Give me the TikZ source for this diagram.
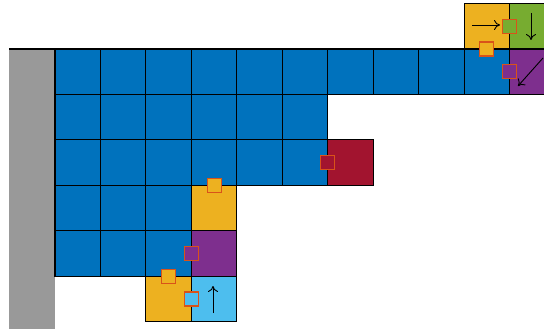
\documentclass[tikz,border=0pt]{standalone}
\usetikzlibrary{arrows.meta}
\definecolor{mblue}{HTML}{0072BD}
\definecolor{morange}{HTML}{EDB120}
\definecolor{mpurple}{HTML}{7E2F8E}
\definecolor{mgreen}{HTML}{77AC30}
\definecolor{mlblue}{HTML}{4DBEEE}
\definecolor{mred}{HTML}{A2142F}
\definecolor{medge}{HTML}{D95319}
\definecolor{wallgray}{HTML}{999999}
\tikzset{
  cellbox/.style={draw=black, line width=1.1pt},
  marker/.style={draw=medge, line width=1.1pt, minimum size=14pt, inner sep=0pt, shape=rectangle},
  dirarrow/.style={line width=0.9pt, -{To[length=6pt,width=10pt]}},
}
\newcommand\gcell[3]{\fill[#3] (55+#1*45.45, 49+#2*45.45) rectangle ++(45.45,45.45);}
\newcommand\gedge[2]{\draw[cellbox] (55+#1*45.45, 49+#2*45.45) rectangle ++(45.45,45.45);}
\begin{document}
\begin{tikzpicture}[x=1pt,y=-1pt]
\useasboundingbox (0,0) rectangle (544,329);
\clip (0,0) rectangle (544,329);
% wall
\fill[wallgray] (9,49) rectangle (55,329);
% fills
\foreach \c in {0,...,9} {\gcell{\c}{0}{mblue}}
\gcell{10}{0}{mpurple}
\gcell{9}{-1}{morange}
\gcell{10}{-1}{mgreen}
\foreach \c in {0,...,5} {\gcell{\c}{1}{mblue}\gcell{\c}{2}{mblue}}
\gcell{6}{2}{mred}
\foreach \c in {0,1,2} {\gcell{\c}{3}{mblue}\gcell{\c}{4}{mblue}}
\gcell{3}{3}{morange}
\gcell{3}{4}{mpurple}
\gcell{2}{5}{morange}
\gcell{3}{5}{mlblue}
% edges
\foreach \c in {0,...,10} {\gedge{\c}{0}}
\gedge{9}{-1}\gedge{10}{-1}
\foreach \c in {0,...,5} {\gedge{\c}{1}\gedge{\c}{2}}
\gedge{6}{2}
\foreach \c in {0,...,3} {\gedge{\c}{3}\gedge{\c}{4}}
\gedge{2}{5}\gedge{3}{5}
\draw[line width=1.1pt] (9,49) -- (55,49);
% direction arrows
\coordinate (a1s) at (472,25); \coordinate (a1e) at (500,25);
\draw[dirarrow] (a1s) -- (a1e);
\coordinate (a2s) at (531,13); \coordinate (a2e) at (531,40);
\draw[dirarrow] (a2s) -- (a2e);
\coordinate (a3s) at (543,58); \coordinate (a3e) at (518,86);
\draw[dirarrow] (a3s) -- (a3e);
\coordinate (a4s) at (213,313); \coordinate (a4e) at (213,286);
\draw[dirarrow] (a4s) -- (a4e);
% markers
\node[marker, fill=mgreen] (m1) at (509.5,26.3) {};
\node[marker, fill=morange] (m2) at (486.8,49) {};
\node[marker, fill=mpurple] (m3) at (509.5,71.7) {};
\node[marker, fill=mred] (m4) at (327.7,162.6) {};
\node[marker, fill=morange] (m5) at (214.1,185.4) {};
\node[marker, fill=mpurple] (m6) at (191.4,253.5) {};
\node[marker, fill=morange] (m7) at (168.6,276.3) {};
\node[marker, fill=mlblue] (m8) at (191.4,299) {};
\end{tikzpicture}
\end{document}
